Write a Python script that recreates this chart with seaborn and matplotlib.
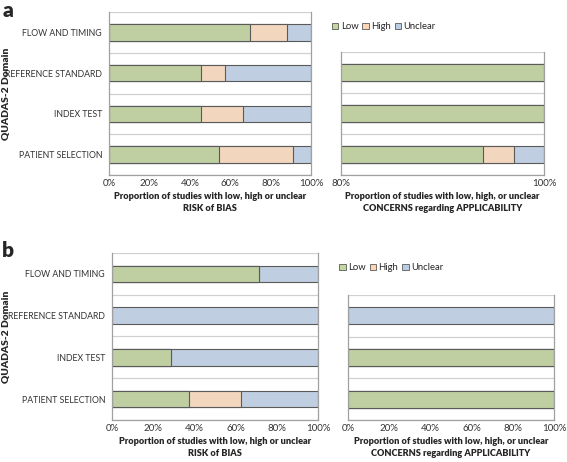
import numpy as np
import pandas as pd
import seaborn as sns
import matplotlib.pyplot as plt
from matplotlib.patches import Patch

sns.set_style("white")
plt.rcParams['font.family'] = ['Lato', 'DejaVu Sans']

domains = ["FLOW AND TIMING", "REFERENCE STANDARD", "INDEX TEST", "PATIENT SELECTION"]
app_domains = ["REFERENCE STANDARD", "INDEX TEST", "PATIENT SELECTION"]

# panel a
a_bias_low = [70, 45.5, 45.5, 54.5]
a_bias_high = [18, 12, 21, 36.5]
a_bias_unclear = [12, 42.5, 33.5, 9]
a_app_low = [100, 100, 94]
a_app_high = [0, 0, 3]
a_app_unclear = [0, 0, 3]

# panel b
b_bias_low = [71.5, 0, 28.5, 37.5]
b_bias_high = [0, 0, 0, 25]
b_bias_unclear = [28.5, 100, 71.5, 37.5]
b_app_low = [0, 100, 100]
b_app_high = [0, 0, 0]
b_app_unclear = [100, 0, 0]

c_low = "#C3D69B"
c_high = "#FCD5B5"
c_unclear = "#B9CDE5"
edge = "#5a5a5a"
grid = "#d0d0d0"


def stacked(ax, cats, low, high, unclear, xmin, xticks, show_labels):
    low = np.array(low, float)
    high = np.array(high, float)
    unclear = np.array(unclear, float)
    df = pd.DataFrame({"domain": cats, "low": low,
                       "lowhigh": low + high, "total": low + high + unclear})
    # stack by overdrawing cumulative totals
    for col, c in [("total", c_unclear), ("lowhigh", c_high), ("low", c_low)]:
        d = df.copy()
        d[col] = np.where(df[col] > 0, df[col], np.nan)
        sns.barplot(data=d, x=col, y="domain", order=cats, color=c, orient="h",
                    width=0.4, edgecolor=edge, linewidth=0.8, ax=ax)
    n = len(cats)
    for b in np.arange(n + 1) - 0.5:
        ax.axhline(b, color=grid, lw=0.9, zorder=0)
    ax.set_ylim(n - 0.5, -0.5)
    ax.set_xlim(xmin, 100)
    ax.set_xticks(xticks)
    ax.set_xticklabels([f"{t}%" for t in xticks], fontsize=7, color="#333333")
    ax.set_yticks(np.arange(n + 1) - 0.5, minor=True)
    ax.tick_params(axis="y", which="minor", length=3, color=grid, width=0.9)
    ax.tick_params(axis="y", which="major", length=0, labelsize=6.3,
                   labelcolor="#333333", pad=5)
    ax.tick_params(axis="x", length=0, pad=3)
    if not show_labels:
        ax.set_yticklabels([])
    ax.set_ylabel("")
    for s in ["left", "right", "bottom"]:
        ax.spines[s].set_color("#a0a0a0")
        ax.spines[s].set_linewidth(0.9)
    ax.spines["top"].set_visible(False)


fig = plt.figure(figsize=(5.67, 4.62), dpi=100)

axes_pos = [
    ([0.1922, 0.6212, 0.3563, 0.3528], [0.6014, 0.6212, 0.358, 0.2662]),
    ([0.1975, 0.0909, 0.3633, 0.3615], [0.6138, 0.0909, 0.3633, 0.2706]),
]
data = [
    ((a_bias_low, a_bias_high, a_bias_unclear), (a_app_low, a_app_high, a_app_unclear), 80, [80, 100]),
    ((b_bias_low, b_bias_high, b_bias_unclear), (b_app_low, b_app_high, b_app_unclear), 0, [0, 20, 40, 60, 80, 100]),
]
letters = ["a", "b"]
letter_y = [0.998, 0.478]
legend_y = [0.942, 0.42]
legend_x = [0.585, 0.598]

for i in range(2):
    pl, pr = axes_pos[i]
    axl = fig.add_axes(pl)
    axr = fig.add_axes(pr)
    bias, app, amin, aticks = data[i]
    stacked(axl, domains, *bias, 0, [0, 20, 40, 60, 80, 100], True)
    stacked(axr, app_domains, *app, amin, aticks, False)
    axl.set_xlabel("Proportion of studies with low, high or unclear\nRISK of BIAS",
                   fontsize=6.6, fontweight="heavy", labelpad=3, linespacing=1.35)
    axr.set_xlabel("Proportion of studies with low, high, or unclear\nCONCERNS regarding APPLICABILITY",
                   fontsize=6.6, fontweight="heavy", labelpad=3, linespacing=1.35)
    fig.text(0.012, pl[1] + pl[3] / 2, "QUADAS-2 Domain", rotation=90, va="center",
             ha="center", fontsize=7.4, fontweight="heavy")
    fig.text(0.004, letter_y[i], letters[i], fontsize=15, fontweight="heavy", va="top")
    handles = [Patch(facecolor=c, edgecolor=edge, linewidth=0.6) for c in (c_low, c_high, c_unclear)]
    fig.legend(handles, ["Low", "High", "Unclear"], loc="center left",
               bbox_to_anchor=(legend_x[i], legend_y[i]), ncol=3, frameon=False,
               fontsize=6.8, handlelength=0.7, handleheight=0.7, handletextpad=0.25,
               columnspacing=0.4, borderpad=0, borderaxespad=0)

fig.savefig("out.png", dpi=100)
